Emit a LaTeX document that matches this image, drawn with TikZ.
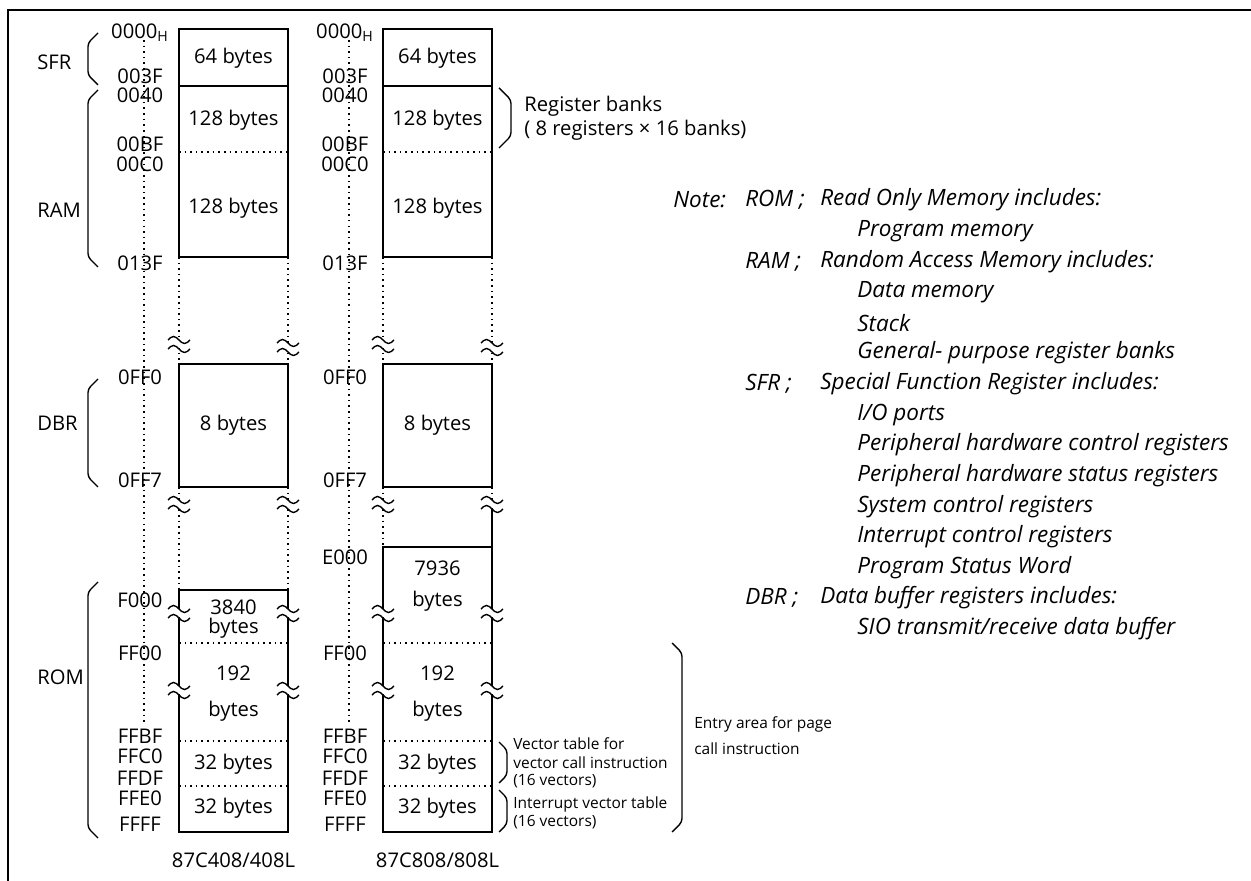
\documentclass[tikz,border=0pt]{standalone}
\usepackage{fontspec}
\setmainfont{Open Sans}

\newcommand{\lbr}[2]{\draw[brace] (98,#1) -- (88,#1+10) -- (88,#2-10) -- (98,#2);}
\newcommand{\rbr}[4]{\draw[brace] (#1,#2) -- ++(#4,#4) -- (#1+#4,#3-#4) -- (#1,#3);}

\tikzset{
  mem/.style={line width=0.9pt},
  dotl/.style={line width=0.9pt, dash pattern=on 0.9pt off 2.3pt},
  brace/.style={line width=0.8pt, rounded corners=2pt},
  addr/.style={inner sep=0pt},
  lab/.style={anchor=west, inner sep=0pt},
  note/.style={anchor=west, inner sep=0pt, font=\fontsize{12.8}{15}\selectfont\itshape},
  side/.style={anchor=west, inner sep=0pt, font=\fontsize{8.8}{10}\selectfont},
  brkmark/.pic={
    \fill[white] (-3,-4) rectangle (3,4);
    \draw[line width=0.8pt] (-11,-4) sin (-5.5,-7.5) cos (0,-4) sin (5.5,-0.5) cos (11,-4);
    \draw[line width=0.8pt] (-11,5) sin (-5.5,1.5) cos (0,5) sin (5.5,8.5) cos (11,5);
  }
}

\begin{document}
\begin{tikzpicture}[x=0.02cm, y=-0.02cm, font=\fontsize{11.5}{13.5}\selectfont]
  \useasboundingbox (0,0) rectangle (1251,881);
  \draw[line width=1.3pt] (8,881) -- (8,10) -- (1251,10);

  \draw[dotl] (144,40) -- (144,723);
  \draw[dotl] (349,40) -- (349,723);

  \draw[mem] (179,29) rectangle (288,257);
  \draw[mem] (179,86) -- (288,86);
  \draw[dotl] (179,152) -- (288,152);
  \draw[dotl] (179,257) -- (179,364) (288,257) -- (288,364);
  \draw[mem] (179,364) rectangle (288,487);
  \draw[dotl] (179,487) -- (179,590) (288,487) -- (288,590);
  \draw[mem] (179,590) rectangle (288,832);
  \draw[dotl] (179,643) -- (288,643) (179,741) -- (288,741) (179,786) -- (288,786);

  \draw[mem] (383,29) rectangle (492,257);
  \draw[mem] (383,86) -- (492,86);
  \draw[dotl] (383,152) -- (492,152);
  \draw[dotl] (383,257) -- (383,364) (492,257) -- (492,364);
  \draw[mem] (383,364) rectangle (492,487);
  \draw[dotl] (383,487) -- (383,547) (492,487) -- (492,504);
  \draw[mem] (492,504) -- (492,832) -- (383,832) -- (383,547) -- (492,547);
  \draw[dotl] (383,643) -- (492,643) (383,741) -- (492,741) (383,786) -- (492,786);

  \foreach \x/\y in {179/344, 288/347, 383/344, 492/347, 179/504, 288/504, 383/504, 492/504,
                     179/613, 288/613, 383/613, 492/613, 179/690, 288/690, 383/690, 492/690}
    \pic at (\x,\y) {brkmark};

  \node[addr] (l0000) at (140,33) {0000\textsubscript{H}};
  \node[addr] (r0000) at (345,33) {0000\textsubscript{H}};
  \foreach \a/\y in {003F/76, 0040/95, 00BF/144, 00C0/164, 013F/263, 0FF0/377, 0FF7/480,
                     FF00/653, FFBF/736, FFC0/756, FFDF/778, FFE0/798, FFFF/824} {
    \node[addr] (l\a) at (140,\y) {\a};
    \node[addr] (r\a) at (345,\y) {\a};
  }
  \node[addr] (lF000) at (140,600) {F000};
  \node[addr] (rE000) at (345,557) {E000};

  \node (sfr64l) at (233.5,58) {64 bytes};
  \node (ram1l) at (233.5,120) {128 bytes};
  \node (ram2l) at (233.5,208) {128 bytes};
  \node (dbrl) at (233.5,425) {8 bytes};
  \node[align=center, inner sep=0pt] (rom1l) at (233.5,619) {3840\\[-3pt]bytes};
  \node[align=center, inner sep=0pt] (rom2l) at (233.5,694) {192\\[7pt]bytes};
  \node (vecl) at (233.5,764) {32 bytes};
  \node (intl) at (233.5,808) {32 bytes};
  \node (namel) at (233.5,860) {87C408/408L};

  \node (sfr64r) at (437.5,58) {64 bytes};
  \node (ram1r) at (437.5,120) {128 bytes};
  \node (ram2r) at (437.5,208) {128 bytes};
  \node (dbrr) at (437.5,425) {8 bytes};
  \node[align=center, inner sep=0pt] (rom1r) at (437.5,586) {7936\\[4pt]bytes};
  \node[align=center, inner sep=0pt] (rom2r) at (437.5,694) {192\\[7pt]bytes};
  \node (vecr) at (437.5,764) {32 bytes};
  \node (intr) at (437.5,808) {32 bytes};
  \node (namer) at (437.5,860) {87C808/808L};

  \lbr{33}{85}
  \lbr{90}{267}
  \lbr{379}{487}
  \lbr{582}{838}
  \node[lab] (sfr) at (37,62) {SFR};
  \node[lab] (ram) at (37,210) {RAM};
  \node[lab] (dbr) at (37,423) {DBR};
  \node[lab] (rom) at (37,677) {ROM};

  \rbr{499}{88}{148}{12}
  \node[lab] (rb1) at (524,106) {Register banks};
  \node[lab] (rb2) at (524,130) {( 8 registers × 16 banks)};
  \rbr{499}{742}{783}{8}
  \node[side] (vt1) at (513,744) {Vector table for};
  \node[side] (vt2) at (513,763) {vector call instruction};
  \node[side] (vt3) at (513,781) {(16 vectors)};
  \rbr{499}{790}{832}{8}
  \node[side] (it1) at (513,804) {Interrupt vector table};
  \node[side] (it2) at (513,822) {(16 vectors)};
  \rbr{672}{643}{832}{10}
  \node[side] (ea1) at (694,724) {Entry area for page};
  \node[side] (ea2) at (694,749) {call instruction};

  \node[note] (nt) at (673,200) {Note:};
  \node[note] (nrom) at (745,200) {ROM ;};
  \node[note] (nrom1) at (820,200) {Read Only Memory includes:};
  \node[note] (nrom2) at (857,231) {Program memory};
  \node[note] (nram) at (745,262) {RAM ;};
  \node[note] (nram1) at (820,262) {Random Access Memory includes:};
  \node[note] (nram2) at (857,292) {Data memory};
  \node[note] (nram3) at (857,323) {Stack};
  \node[note] (nram4) at (857,353) {General- purpose register banks};
  \node[note] (nsfr) at (745,384) {SFR ;};
  \node[note] (nsfr1) at (820,384) {Special Function Register includes:};
  \node[note] (nsfr2) at (857,415) {I/O ports};
  \node[note] (nsfr3) at (857,445) {Peripheral hardware control registers};
  \node[note] (nsfr4) at (857,476) {Peripheral hardware status registers};
  \node[note] (nsfr5) at (857,507) {System control registers};
  \node[note] (nsfr6) at (857,537) {Interrupt control registers};
  \node[note] (nsfr7) at (857,568) {Program Status Word};
  \node[note] (ndbr) at (745,598) {DBR ;};
  \node[note] (ndbr1) at (820,598) {Data buffer registers includes:};
  \node[note] (ndbr2) at (857,629) {SIO transmit/receive data buffer};
\end{tikzpicture}
\end{document}
